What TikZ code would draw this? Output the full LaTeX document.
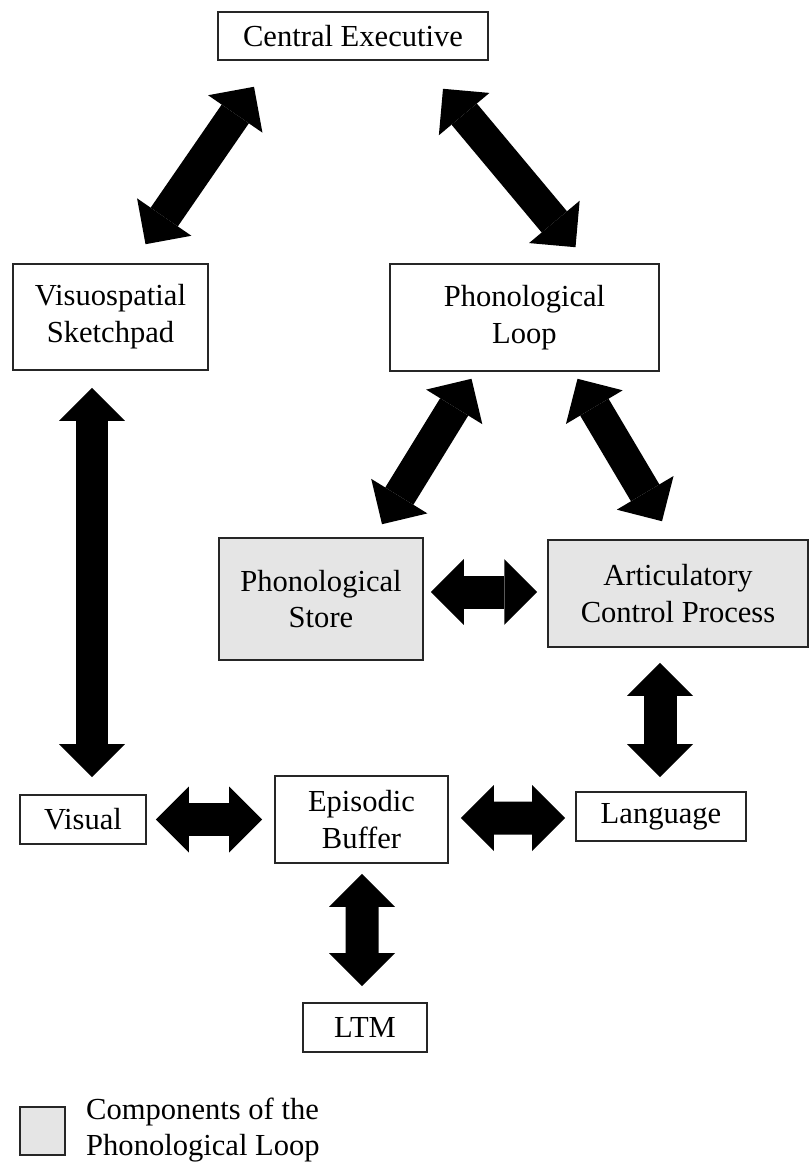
\documentclass[tikz,border=0pt]{standalone}
\usepackage{fontspec}
\setmainfont{Liberation Serif}
\usetikzlibrary{arrows.meta}

\tikzset{%
  % Specifications for style of nodes:
         box/.style = {rectangle, draw = black!85, line width=0.9pt, inner sep=0pt, align=center, font=\fontsize{17.4}{21}\selectfont},
   component/.style = {box, fill=gray!20},
  % Specifications for style of arrows:
  blocktip/.tip = {Triangle[width=1.32cm, length=0.66cm, line width=0pt]},
  blockarrow/.style = {line width=0.66cm, blocktip-blocktip},
}

\begin{document}
\begin{tikzpicture}[x=0.02cm, y=-0.02cm]
    \useasboundingbox (0,0) rectangle (810,1165);

    % Draw nodes
    \node (ce)   [box, minimum width=5.4cm, minimum height=0.96cm]        at (353,36)     {Central Executive};
    \node (vs)   [box, minimum width=3.9cm, minimum height=2.12cm]        at (110.5,317)  {Visuospatial\\Sketchpad};
    \node (pl)   [box, minimum width=5.38cm, minimum height=2.14cm]       at (524.5,317.5){Phonological\\Loop};
    \node (ps)   [component, minimum width=4.08cm, minimum height=2.44cm] at (321,599)    {Phonological\\Store};
    \node (acp)  [component, minimum width=5.2cm, minimum height=2.14cm]  at (678,593.5)  {Articulatory\\Control Process};
    \node (vis)  [box, minimum width=2.52cm, minimum height=0.98cm]       at (83,819.5)   {Visual};
    \node (eb)   [box, minimum width=3.46cm, minimum height=1.74cm]       at (361.5,819.5){Episodic\\Buffer};
    \node (lang) [box, minimum width=3.4cm, minimum height=0.98cm]        at (661,816.5)  {Language};
    \node (ltm)  [box, minimum width=2.48cm, minimum height=0.98cm]       at (365,1027.5) {LTM};

    % Legend
    \node (key)     [component, minimum width=0.9cm, minimum height=0.96cm] at (42.5,1131) {};
    \node (keytext) [anchor=west, align=left, font=\fontsize{17.4}{21}\selectfont] at (80,1130) {Components of the\\Phonological Loop};

    % Draw arrows
    \draw[blockarrow] ([shift={(35,-19)}]vs.north)   -- ([shift={(-99,26)}]ce.south);
    \draw[blockarrow] ([shift={(90,28)}]ce.south)    -- ([shift={(51,-16)}]pl.north);
    \draw[blockarrow] ([shift={(-53,7)}]pl.south)    -- ([shift={(61,-13)}]ps.north);
    \draw[blockarrow] ([shift={(53,7)}]pl.south)     -- ([shift={(-16,-18)}]acp.north);
    \draw[blockarrow] ([shift={(7,-7)}]ps.east)      -- ([shift={(-10,-1.5)}]acp.west);
    \draw[blockarrow] ([shift={(-18.5,17)}]vs.south) -- ([shift={(9,-17)}]vis.north);
    \draw[blockarrow] ([shift={(9,0)}]vis.east)      -- ([shift={(-12,0)}]eb.west);
    \draw[blockarrow] ([shift={(12,-1.5)}]eb.east)   -- ([shift={(-10,1.5)}]lang.west);
    \draw[blockarrow] ([shift={(-18,15)}]acp.south)  -- ([shift={(-1,-14)}]lang.north);
    \draw[blockarrow] ([shift={(0.5,10)}]eb.south)   -- ([shift={(-3,-16)}]ltm.north);
\end{tikzpicture}
\end{document}
